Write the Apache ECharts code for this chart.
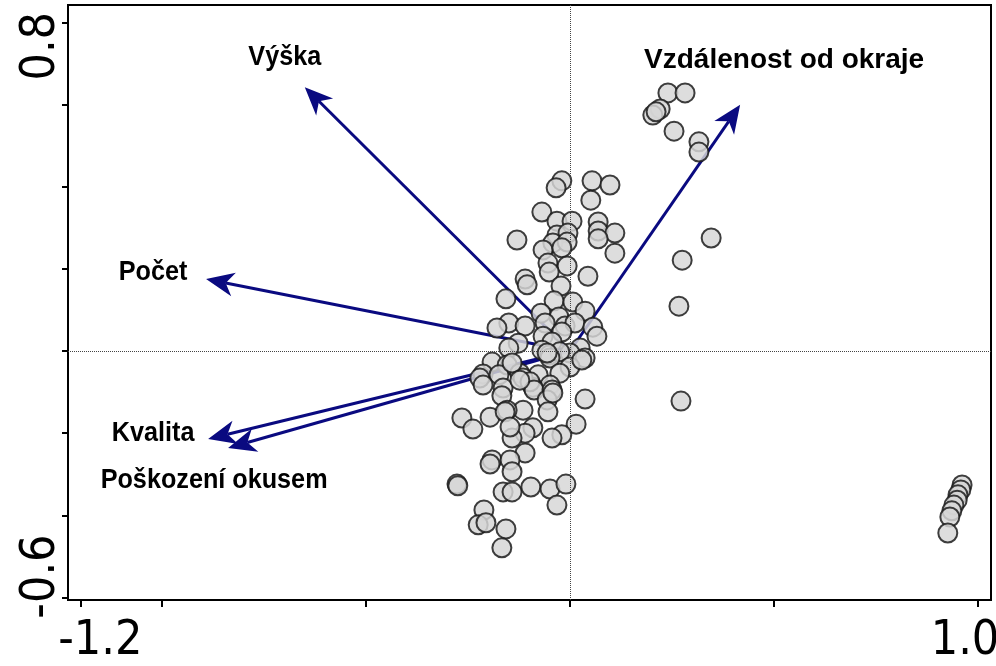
<!DOCTYPE html>
<html>
<head>
<meta charset="utf-8">
<script src="https://cdn.jsdelivr.net/npm/echarts@6/dist/echarts.min.js"></script>
<style>
  html, body { margin: 0; padding: 0; background: #fff; }
  #chart { width: 996px; height: 666px; }
</style>
</head>
<body>
<div id="chart"></div>
<script>
// site scores (axis 1, axis 2)
const siteX = [
  -0.020, -0.034, 0.054, 0.098, 0.051, -0.069, -0.032, 0.005, 0.069, 0.069, 0.110, 0.069, -0.130, -0.032,
  -0.005, -0.042, -0.007, -0.066, -0.020, 0.110, -0.054, -0.007, -0.051, 0.044, -0.110, -0.105, -0.022,
  -0.157, -0.039, 0.007, 0.037, -0.071, -0.027, -0.150, -0.110, -0.179, -0.061, -0.012, 0.012, 0.056,
  0.066, -0.066, -0.020, -0.044, -0.127, -0.150, 0.025, 0.000, 0.037, -0.069, -0.051, -0.025, -0.191,
  -0.154, -0.213, -0.221, -0.174, -0.123, -0.078, -0.049, 0.000, 0.029, -0.025, -0.049, -0.091, -0.164,
  -0.115, 0.037,
  -0.213, -0.167, -0.098, -0.056, -0.088, -0.044, -0.056, -0.042, -0.115, -0.154, -0.054, -0.142, -0.123,
  -0.265, -0.238, -0.196, -0.159, 0.015, -0.020, -0.044, -0.091, -0.110, -0.142, -0.147, -0.110, -0.191,
  -0.196, -0.147, -0.142, -0.277, -0.275, -0.164, -0.142, -0.096, -0.049, -0.010, -0.032, -0.211, -0.225,
  -0.206, -0.157, -0.167,
  0.240, 0.282, 0.221, 0.203, 0.211, 0.255, 0.316, 0.316, 0.346, 0.275, 0.267, 0.272,
  0.961, 0.958, 0.951, 0.949, 0.941, 0.936, 0.931, 0.926
];
const siteY = [
  0.414, 0.397, 0.414, 0.404, 0.367, 0.338, 0.316, 0.316, 0.314, 0.292, 0.287, 0.273, 0.270, 0.282,
  0.287, 0.263, 0.265, 0.246, 0.251, 0.238, 0.214, 0.207, 0.192, 0.182, 0.175, 0.161, 0.158,
  0.127, 0.122, 0.119, 0.097, 0.092, 0.083, 0.068, 0.061, 0.056, 0.068, 0.061, 0.068, 0.058,
  0.036, 0.036, 0.046, 0.022, 0.019, 0.007, 0.007, -0.005, -0.017, 0.002, -0.010, -0.002, -0.027,
  -0.034, -0.056, -0.066, -0.058, -0.054, -0.058, -0.017, -0.039, -0.022, -0.054, -0.083, -0.088, -0.090,
  -0.066, -0.117,
  -0.083, -0.109, -0.075, -0.005, -0.095, -0.095, -0.119, -0.102, -0.144, -0.144, -0.148, -0.029, -0.071,
  -0.163, -0.190, -0.161, -0.148, -0.178, -0.204, -0.212, -0.187, -0.200, -0.212, -0.185, -0.248, -0.265,
  -0.275, -0.265, -0.294, -0.324, -0.328, -0.343, -0.343, -0.331, -0.336, -0.324, -0.375, -0.387, -0.423,
  -0.418, -0.433, -0.479,
  0.628, 0.628, 0.589, 0.574, 0.582, 0.535, 0.509, 0.484, 0.275, 0.221, 0.109, -0.122,
  -0.326, -0.338, -0.350, -0.363, -0.375, -0.389, -0.404, -0.443
];

// environmental variables (arrow tips)
const varNames = ['Výška', 'Vzdálenost od okraje', 'Počet', 'Kvalita', 'Poškození okusem'];
const varX = [-0.650, 0.417, -0.892, -0.887, -0.838];
const varY = [0.642, 0.599, 0.175, -0.214, -0.236];

const xTicks = [-1.2, -1.0, -0.5, 0, 0.5, 1.0];
const yTicks = [-0.6, -0.4, -0.2, 0, 0.2, 0.4, 0.6, 0.8];
const xLabels = [-1.2, 1.0];
const yLabels = [-0.6, 0.8];

// label placement relative to arrow tip (px) and horizontal squeeze
const labelPlace = {
  'Výška': { dx: -20, dy: -30, sx: 0.9 },
  'Vzdálenost od okraje': { dx: 44, dy: -45, sx: 1.0 },
  'Počet': { dx: -53, dy: -7, sx: 0.9 },
  'Kvalita': { dx: -55, dy: -6, sx: 0.9 },
  'Poškození okusem': { dx: -14, dy: 32, sx: 0.9 }
};

const arrowColor = '#0a0a80';
const tickFont = '"Liberation Sans Narrow", "DejaVu Sans Condensed", "Liberation Sans", sans-serif';

function renderArrow(params, api) {
  const o = api.coord([0, 0]);
  const p = api.coord([api.value(0), api.value(1)]);
  const name = varNames[params.dataIndex];
  const a = Math.atan2(p[1] - o[1], p[0] - o[0]);
  const c = Math.cos(a), s = Math.sin(a);
  const L = 28, W = 12, N = 20;
  const left = [p[0] - L * c + W * s, p[1] - L * s - W * c];
  const right = [p[0] - L * c - W * s, p[1] - L * s + W * c];
  const notch = [p[0] - N * c, p[1] - N * s];
  const lp = labelPlace[name];
  return {
    type: 'group',
    children: [
      { type: 'line', shape: { x1: o[0], y1: o[1], x2: notch[0], y2: notch[1] },
        style: { stroke: arrowColor, lineWidth: 3 } },
      { type: 'polygon', shape: { points: [p, left, notch, right] },
        style: { fill: arrowColor } },
      { type: 'text', x: p[0] + lp.dx, y: p[1] + lp.dy, scaleX: lp.sx,
        style: { text: name, x: 0, y: 0, align: 'center', verticalAlign: 'middle',
                 textAlign: 'center', textVerticalAlign: 'middle',
                 font: 'bold 28px "Liberation Sans", Arial, sans-serif', fill: '#000' } }
    ]
  };
}

const chart = echarts.init(document.getElementById('chart'));
chart.setOption({
  animation: false,
  grid: {
    left: 68, right: 5, top: 5, bottom: 66, outerBoundsMode: 'none', containLabel: false,
    show: true, borderColor: '#000', borderWidth: 2
  },
  xAxis: {
    type: 'value', min: -1.2304, max: 1.0319,
    axisLine: { show: true, onZero: false, lineStyle: { color: '#000', width: 2 } },
    axisTick: { show: true, customValues: xTicks, length: 7, lineStyle: { color: '#000', width: 2 } },
    splitLine: { show: false },
    axisLabel: {
      customValues: xLabels, margin: 18,
      formatter: v => (v < 0 ? '{l|' : '{r|') + v.toFixed(1) + '}',
      rich: {
        l: { fontSize: 48, fontFamily: tickFont, color: '#000', padding: [0, 0, 0, 40] },
        r: { fontSize: 48, fontFamily: tickFont, color: '#000', padding: [0, 26, 0, 0] }
      }
    }
  },
  yAxis: {
    type: 'value', min: -0.606, max: 0.842,
    axisLine: { show: true, onZero: false, lineStyle: { color: '#000', width: 2 } },
    axisTick: { show: true, customValues: yTicks, length: 6, lineStyle: { color: '#000', width: 2 } },
    splitLine: { show: false },
    axisLabel: {
      customValues: yLabels, rotate: 90, margin: 2,
      formatter: v => (v < 0 ? '{b|' : '{t|') + v.toFixed(1) + '}',
      rich: {
        b: { fontSize: 48, fontFamily: tickFont, color: '#000', padding: [0, 0, 0, 42] },
        t: { fontSize: 48, fontFamily: tickFont, color: '#000', padding: [0, 48, 0, 0] }
      }
    }
  },
  series: [
    {
      type: 'line', data: [], silent: true, z: 1,
      markLine: {
        silent: true, symbol: 'none', label: { show: false },
        lineStyle: { type: 'dotted', color: '#444', width: 1 },
        data: [{ xAxis: 0 }, { yAxis: 0 }]
      }
    },
    {
      type: 'custom', z: 2, silent: true,
      data: varX.map((x, i) => [x, varY[i]]),
      renderItem: renderArrow
    },
    {
      type: 'scatter', z: 3, silent: true,
      data: siteX.map((x, i) => [x, siteY[i]]),
      symbolSize: 19,
      itemStyle: { color: '#d6d6d6', borderColor: '#1a1a1a', borderWidth: 2, opacity: 0.84 }
    }
  ]
});
</script>
</body>
</html>
